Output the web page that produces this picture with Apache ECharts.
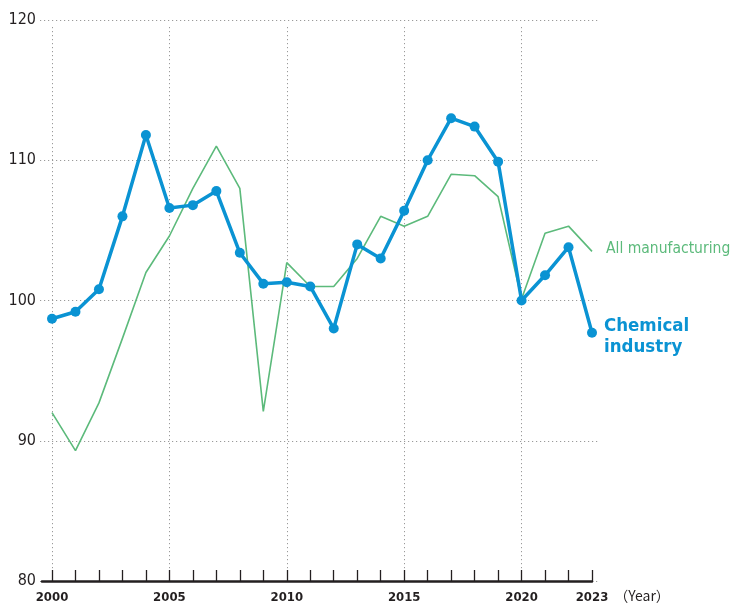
<!DOCTYPE html>
<html>
<head>
<meta charset="utf-8">
<script src="https://cdn.jsdelivr.net/npm/echarts@6/dist/echarts.min.js"></script>
<style>
html,body{margin:0;padding:0;background:#fff;}
#c{width:734px;height:606px;}
</style>
</head>
<body>
<div id="c"></div>
<script>
var years = [2000,2001,2002,2003,2004,2005,2006,2007,2008,2009,2010,2011,2012,2013,2014,2015,2016,2017,2018,2019,2020,2021,2022,2023];
var chemical = [98.7,99.2,100.8,106.0,111.8,106.6,106.8,107.8,103.4,101.2,101.3,101.0,98.0,104.0,103.0,106.4,110.0,113.0,112.4,109.9,100.0,101.8,103.8,97.7];
var allManufacturing = [92.0,89.3,92.7,97.3,102.0,104.6,108.0,111.0,108.0,92.1,102.7,101.0,101.0,103.0,106.0,105.3,106.0,109.0,108.9,107.4,100.1,104.8,105.3,103.5];
var yTicks = [80,90,100,110,120];
var xLabelYears = [2000,2005,2010,2015,2020,2023];

var FONT = '"Liberation Sans Narrow","DejaVu Sans Condensed","Noto Sans CJK JP",sans-serif';
var TXT = '#231f20';
var BLUE = '#0a93d3';
var GREEN = '#5cba7b';
var GRIDC = '#9a9a9a';

function pairs(vals){ return years.map(function(y,i){ return [y, vals[i]]; }); }

var chart = echarts.init(document.getElementById('c'), null, {renderer:'canvas'});
chart.setOption({
  animation:false,
  backgroundColor:'#fff',
  grid:[
    {left:52, right:142, top:20, bottom:25},   // data
    {left:40, right:134, top:20, bottom:25},   // horizontal grid + y labels
    {left:52, right:142, top:27, bottom:25},   // vertical grid
    {left:42, right:142, top:20, bottom:25}    // axis line
  ],
  xAxis:[
    {gridIndex:0, type:'value', min:years[0], max:years[years.length-1], interval:1,
     axisLine:{show:false},
     axisTick:{show:true, inside:true, length:11, lineStyle:{color:TXT, width:1.3}},
     splitLine:{show:false},
     axisLabel:{show:true, margin:10, fontFamily:FONT, fontSize:13, fontWeight:'bold', color:TXT,
       formatter:function(v){ return xLabelYears.indexOf(v)>=0 ? String(v) : ''; }},
     name:'（Year）', nameLocation:'end', nameGap:0,
     nameTextStyle:{fontFamily:'"Noto Sans CJK JP",'+FONT, fontSize:14, color:TXT, verticalAlign:'top', padding:[8,0,0,0]}
    },
    {gridIndex:1, type:'value', min:0, max:1, show:false},
    {gridIndex:2, type:'value', min:years[0], max:years[years.length-1], interval:5,
     axisLine:{show:false}, axisTick:{show:false}, axisLabel:{show:false},
     splitLine:{show:true, lineStyle:{color:[GRIDC,GRIDC,GRIDC,GRIDC,GRIDC,'rgba(0,0,0,0)'], type:[1.2,2.8], width:1}}
    },
    {gridIndex:3, type:'value', min:0, max:1,
     axisLine:{show:true, lineStyle:{color:TXT, width:2.5}},
     axisTick:{show:false}, axisLabel:{show:false}, splitLine:{show:false}}
  ],
  yAxis:[
    {gridIndex:0, type:'value', min:yTicks[0], max:yTicks[yTicks.length-1], interval:10, show:false},
    {gridIndex:1, type:'value', min:yTicks[0], max:yTicks[yTicks.length-1], interval:10,
     axisLine:{show:false}, axisTick:{show:false},
     axisLabel:{show:true, margin:4, fontFamily:FONT, fontSize:16, color:TXT},
     splitLine:{show:true, lineStyle:{color:GRIDC, type:[1.2,2.8], width:1}}
    },
    {gridIndex:2, type:'value', min:0, max:1, show:false},
    {gridIndex:3, type:'value', min:0, max:1, show:false}
  ],
  series:[
    {name:'All manufacturing', type:'line', xAxisIndex:0, yAxisIndex:0,
     data:pairs(allManufacturing), symbol:'none', z:3,
     lineStyle:{color:GREEN, width:1.6},
     endLabel:{show:true, formatter:'{a}', distance:14, offset:[0,-2],
       fontFamily:FONT, fontSize:15.5, color:GREEN}
    },
    {name:'Chemical\nindustry', type:'line', xAxisIndex:0, yAxisIndex:0,
     data:pairs(chemical), symbol:'circle', symbolSize:10, z:4,
     itemStyle:{color:BLUE},
     lineStyle:{color:BLUE, width:3.5},
     endLabel:{show:true, formatter:'{a}', distance:12, offset:[0,4],
       fontFamily:FONT, fontSize:18.5, fontWeight:'bold', lineHeight:21, color:BLUE}
    }
  ]
});
</script>
</body>
</html>
